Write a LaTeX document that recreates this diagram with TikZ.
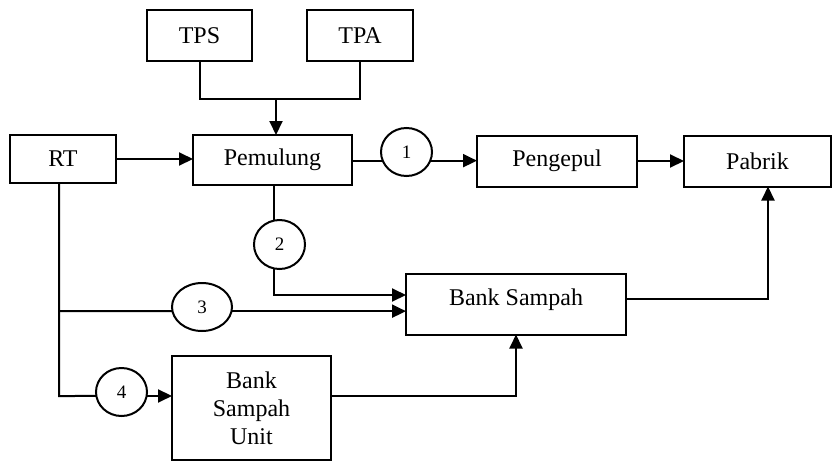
\documentclass[tikz,border=0pt]{standalone}
\usepackage{fontspec}
\setmainfont{Liberation Serif}
\usetikzlibrary{shapes.geometric,arrows.meta}
\begin{document}
\begin{tikzpicture}[x=1pt,y=-1pt,
  line width=2pt,
  box/.style={draw,rectangle,inner sep=0pt,outer sep=0pt,font=\fontsize{24}{28}\selectfont,align=center},
  oval/.style={draw,ellipse,inner sep=0pt,outer sep=0pt,font=\fontsize{19}{22}\selectfont},
  arr/.style={-{Triangle[length=14pt,width=13pt]}}]
\useasboundingbox (0,0) rectangle (832,461);
% boxes
\node[box,minimum width=105pt,minimum height=51pt] (TPS) at (199.5,35.5) {TPS};
\node[box,minimum width=106pt,minimum height=51pt] (TPA) at (360,35.5) {TPA};
\node[box,minimum width=106pt,minimum height=48pt] (RT) at (63,159) {RT};
\node[box,minimum width=159pt,minimum height=50pt] (Pem) at (272.5,160) {Pemulung};
\node[box,minimum width=160pt,minimum height=51pt] (Pg) at (557,161) {Pengepul};
\node[box,minimum width=147pt,minimum height=51pt] (Pab) at (757.5,161) {Pabrik};
\node[box,minimum width=220pt,minimum height=61pt] (BS) at (516,304) {};
\node[font=\fontsize{24}{28}\selectfont] (BSt) at (516,300) {Bank Sampah};
\node[box,minimum width=159pt,minimum height=104pt] (BSU) at (251.5,408) {Bank\\Sampah\\Unit};
% ovals
\node[oval,minimum width=51pt,minimum height=48pt] (c1) at (406.5,152) {1};
\node[oval,minimum width=51pt,minimum height=49pt] (c2) at (279.5,244.5) {2};
\node[oval,minimum width=60pt,minimum height=48pt] (c3) at (202,307) {3};
\node[oval,minimum width=51pt,minimum height=48pt] (c4) at (121.5,392) {4};
% helper coordinates
\coordinate (m) at (276,99);
\coordinate (j3) at (59,311);
\coordinate (j4) at (59,396);
% connectors
\draw (TPS.south) |- (m) -| (TPA.south);
\draw[arr] (m) -- (m |- Pem.north);
\draw[arr] (RT.east) -- (RT.east -| Pem.west);
\draw (Pem.east |- c1.200) -- (c1.200);
\draw[arr] (c1.340) -- (c1.340 -| Pg.west);
\draw[arr] (Pg.east) -- (Pab.west);
\draw (c2.103 |- Pem.south) -- (c2.103);
\draw[arr] (c2.257) |- ([yshift=9pt]BS.west);
\draw (j3 |- RT.south) -- (j4) -- (c4.189);
\draw (j3) -- (c3.188);
\draw[arr] (c3.352) -- (c3.352 -| BS.west);
\draw[arr] (c4.351) -- (c4.351 -| BSU.west);
\draw[arr] (BSU.east |- j4) -| (BS.south);
\draw[arr] ([yshift=5pt]BS.east) -| ([xshift=10.5pt]Pab.south);
\end{tikzpicture}
\end{document}
